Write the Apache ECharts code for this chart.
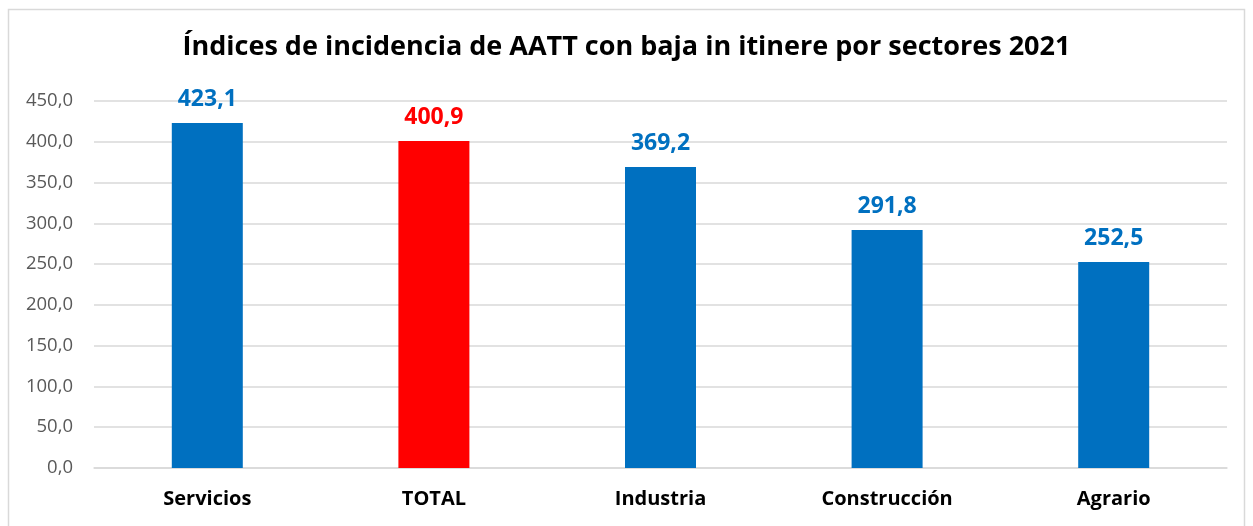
<!DOCTYPE html>
<html><head><meta charset="utf-8">
<script src="https://cdn.jsdelivr.net/npm/echarts@6/dist/echarts.min.js"></script>
<style>html,body{margin:0;padding:0;background:#fff}#c{width:1253px;height:526px}</style>
</head><body><div id="c"></div>
<script>
const titleText = 'Índices de incidencia de AATT con baja in itinere por sectores 2021';
const categories = ['Servicios', 'TOTAL', 'Industria', 'Construcción', 'Agrario'];
const values = [423.1, 400.9, 369.2, 291.8, 252.5];
const barColors = ['#0070C0', '#FF0000', '#0070C0', '#0070C0', '#0070C0'];
const fmt = v => v.toFixed(1).replace('.', ',');
const FONT = '"Open Sans", sans-serif';
const chart = echarts.init(document.getElementById('c'), null, {renderer: 'canvas'});
chart.setOption({
  animation: false,
  backgroundColor: '#fff',
  graphic: [{type: 'rect', shape: {x: 8.5, y: 9.5, width: 1236, height: 530}, style: {fill: 'none', stroke: '#d9d9d9', lineWidth: 1.5}, z: -1}],
  title: {text: titleText, left: 'center', top: 29, textStyle: {fontFamily: FONT, fontWeight: 'bold', fontSize: 27, color: '#000'}},
  grid: {left: 94, right: 26, top: 101, bottom: 58, containLabel: false},
  xAxis: {type: 'category', data: categories,
    axisLine: {lineStyle: {color: '#d9d9d9', width: 1.5}}, axisTick: {show: false},
    axisLabel: {fontFamily: FONT, fontWeight: 'bold', fontSize: 20, color: '#000', margin: 21}},
  yAxis: {type: 'value', min: 0, max: 450, interval: 50,
    axisLine: {show: false}, axisTick: {show: false},
    splitLine: {lineStyle: {color: '#d9d9d9', width: 1.5}},
    axisLabel: {fontFamily: FONT, fontSize: 18.5, color: '#595959', margin: 21, formatter: v => fmt(v)}},
  series: [{type: 'bar', barWidth: 71,
    data: values.map((v, i) => ({value: v, itemStyle: {color: barColors[i]},
      label: {color: barColors[i]}})),
    label: {show: true, position: 'top', distance: 12, fontFamily: FONT, fontWeight: 'bold', fontSize: 23, formatter: p => fmt(p.value)}}]
});
</script></body></html>
